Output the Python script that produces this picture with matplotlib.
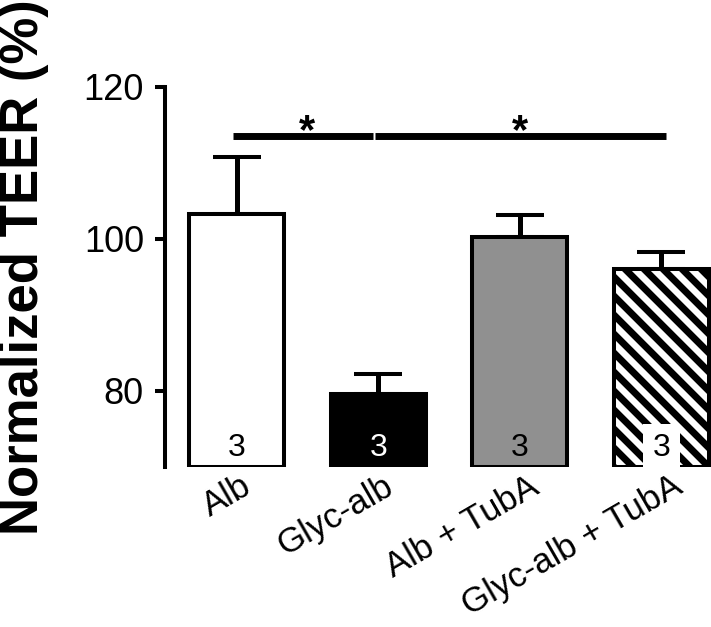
import numpy as np
import matplotlib
matplotlib.use("Agg")
import matplotlib.pyplot as plt
from matplotlib.lines import Line2D
from matplotlib.transforms import ScaledTranslation, IdentityTransform

plt.rcParams['font.family'] = ['Liberation Sans', 'DejaVu Sans']

# data
groups = ["Alb", "Glyc-alb", "Alb + TubA", "Glyc-alb + TubA"]
means = [103.3, 79.6, 100.2, 96.1]
sem_up = [7.5, 2.6, 3.0, 2.2]
n_labels = ["3", "3", "3", "3"]
sig_pairs = [(0, 1), (1, 3)]
sig_level = 113.5

faces = ["white", "black", "#909090", "white"]
striped = [False, False, False, True]
num_colors = ["black", "white", "black", "black"]

y_min, y_max = 70, 120

fig = plt.figure(figsize=(7.11, 6.27), dpi=100)
ax = fig.add_axes([165 / 711, 1 - 467 / 627, 1 - 165 / 711, (467 - 87) / 627])
ax.set_xlim(-0.506, 3.35)
ax.set_ylim(y_min, y_max)

x = np.arange(len(groups))
heights = np.array(means) - y_min
bars = ax.bar(x, heights, bottom=y_min, width=0.67, color=faces, edgecolor="black",
              linewidth=2.9, zorder=3)
ax.errorbar(x, means, yerr=[np.zeros(len(means)), sem_up], fmt="none",
            ecolor="black", elinewidth=3.6, capsize=17, capthick=2.9, zorder=2)

# diagonal stripes (top-left to bottom-right), drawn in pixels and clipped to the bar
step = 19
for bar, st in zip(bars, striped):
    if not st:
        continue
    bb = bar.get_window_extent()
    h = bb.height
    for c in np.arange(bb.x0 - h, bb.x1 + step, step):
        ln = Line2D([c, c + h], [bb.y1, bb.y0], color="black", lw=5,
                    transform=IdentityTransform(), zorder=3.2)
        ax.add_line(ln)
        ln.set_clip_box(None)
        ln.set_clip_path(bar.get_path(), bar.get_transform())

for xi, lab, c, box in zip(x, n_labels, num_colors, striped):
    if box:
        ax.text(xi, 71.4, lab, ha="center", va="baseline", fontsize=23,
                color=c, zorder=4,
                bbox=dict(facecolor="white", edgecolor="none", pad=7))
    else:
        ax.text(xi, 71.4, lab, ha="center", va="baseline", fontsize=23,
                color=c, zorder=4)

# significance bars
for a, b in sig_pairs:
    ax.plot([a - 0.025, b - 0.04 if b == 1 else b + 0.03], [sig_level, sig_level],
            color="black", lw=5, solid_capstyle="butt", clip_on=False)
    ax.text((a + b) / 2, sig_level - 0.9, "*", ha="center", va="baseline",
            fontsize=30, fontweight="bold", clip_on=False)

ax.set_yticks([80, 100, 120])
ax.tick_params(axis="y", length=7.2, width=2.9, labelsize=26, pad=8)
ax.set_xticks(x, groups, rotation=30, ha="right", rotation_mode="anchor")
ax.tick_params(axis="x", length=0, labelsize=25, pad=2)
shifts = [4, 4, 8, 10]
for lab, dx in zip(ax.get_xticklabels(), shifts):
    lab.set_transform(lab.get_transform() + ScaledTranslation(dx / 100, 0, fig.dpi_scale_trans))

for s in ["top", "right", "bottom"]:
    ax.spines[s].set_visible(False)
ax.spines["left"].set_linewidth(2.9)

fig.text(38 / 711, 1 - 267 / 627, "Normalized TEER (%)", rotation=90,
         rotation_mode="anchor", ha="center", va="baseline", fontsize=38,
         fontweight="bold")

fig.savefig("out.png", dpi=100)
